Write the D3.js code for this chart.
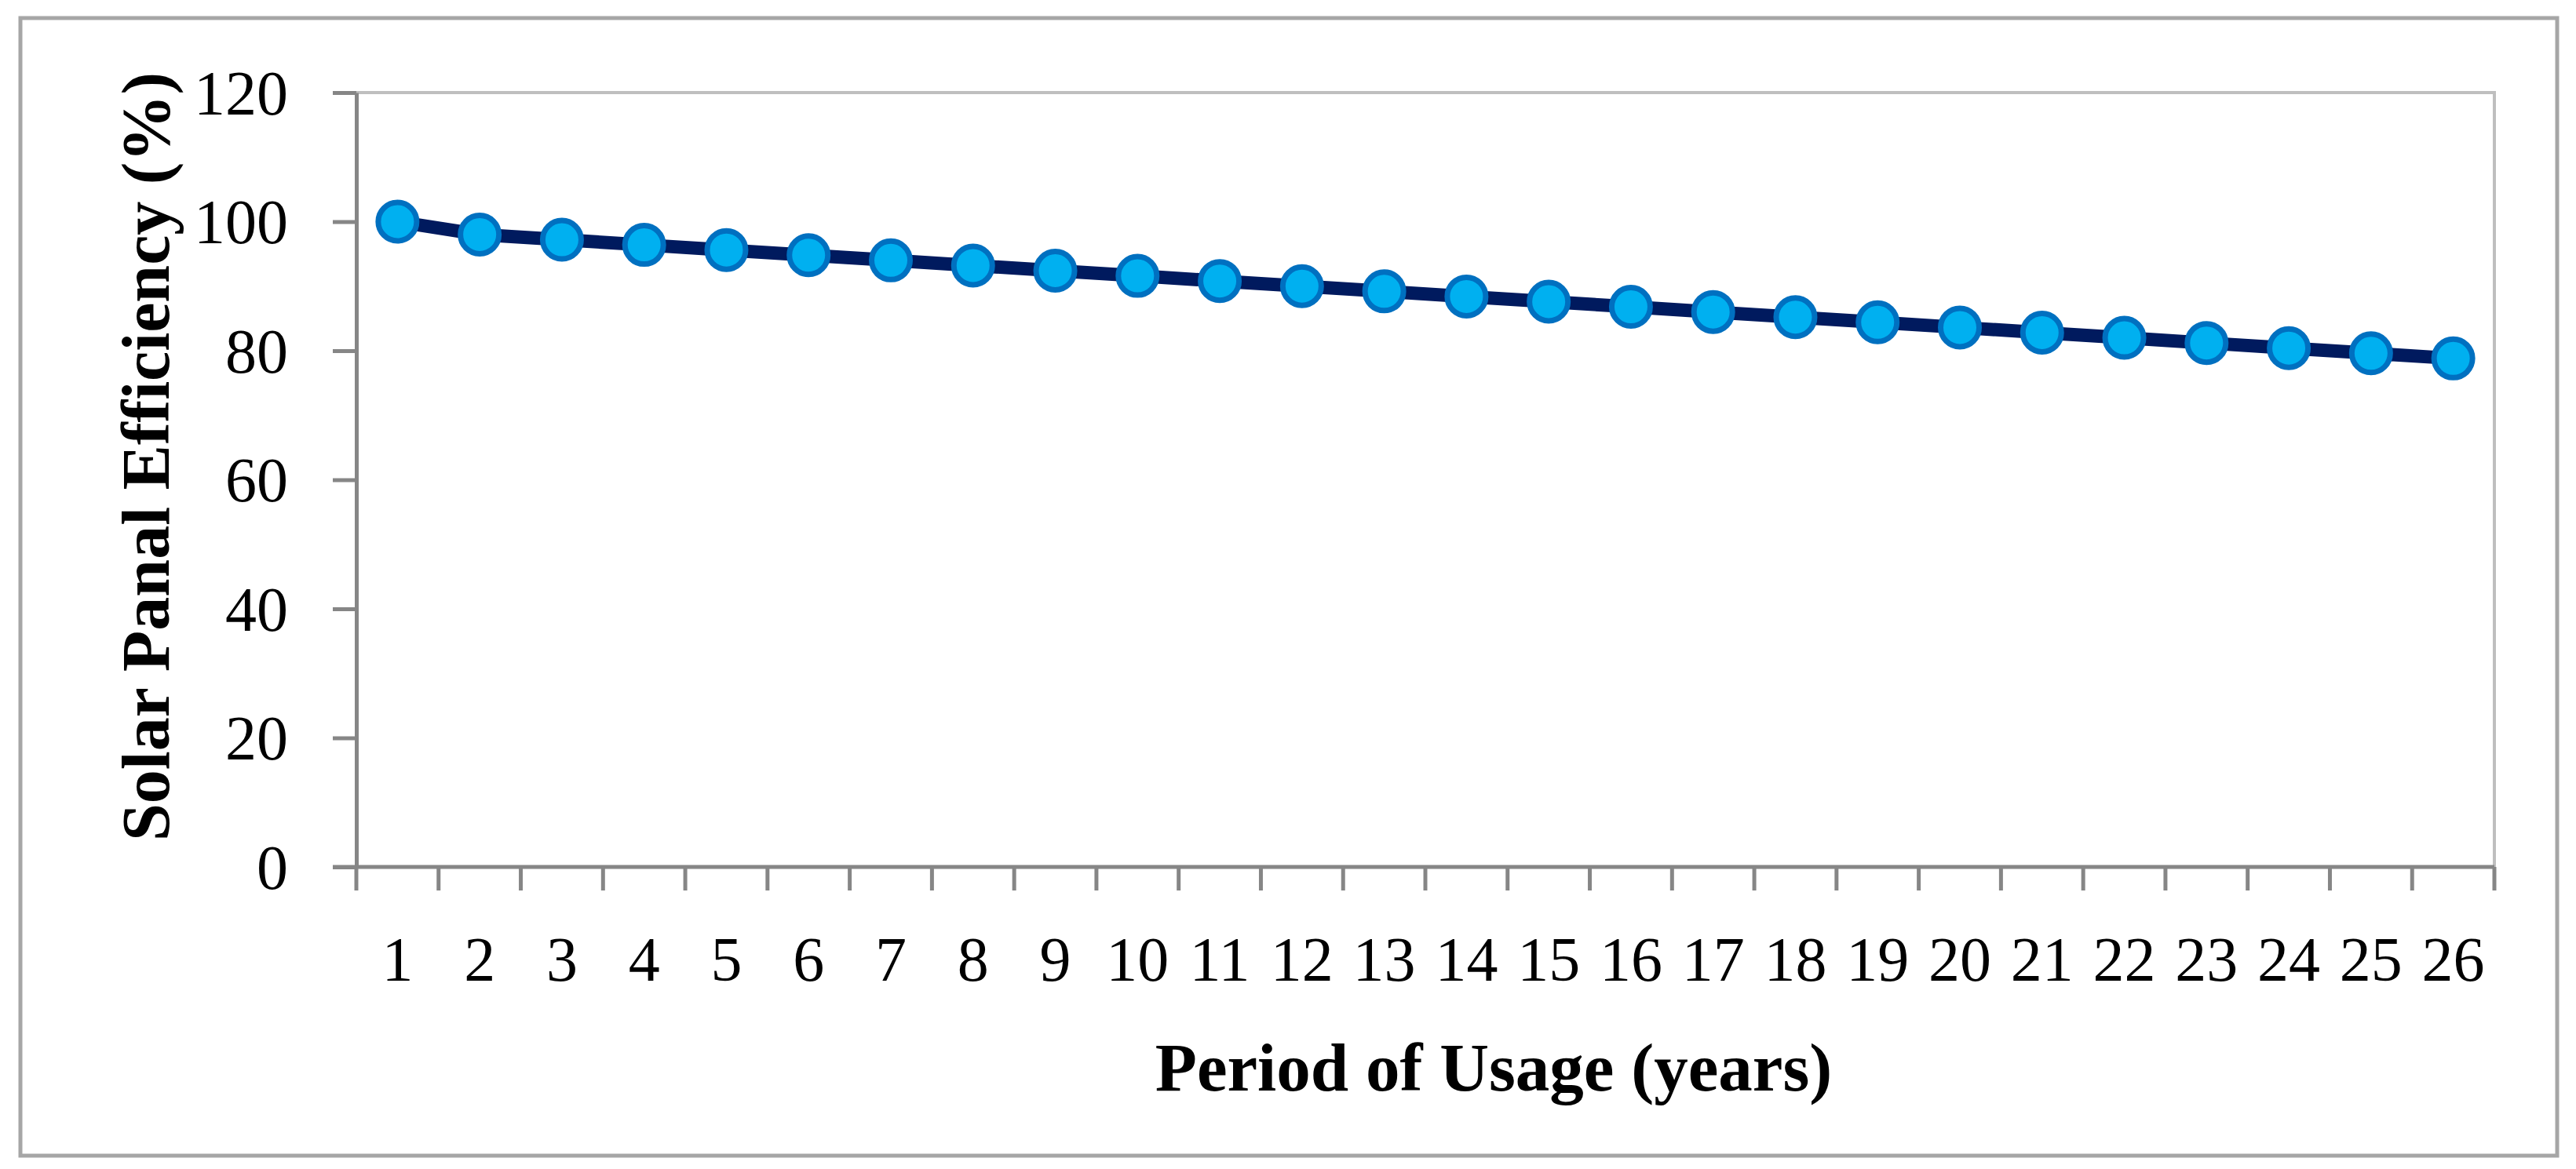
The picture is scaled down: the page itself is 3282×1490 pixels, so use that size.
<!DOCTYPE html>
<html>
<head>
<meta charset="utf-8">
<script src="https://cdn.jsdelivr.net/npm/d3@7"></script>
<style>
  html, body { margin: 0; padding: 0; background: #ffffff; }
  svg { display: block; }
</style>
</head>
<body>
<svg id="chart" width="3282" height="1490"></svg>
<script>
// ---- data ----
const categories = ["1","2","3","4","5","6","7","8","9","10","11","12","13","14","15","16","17","18","19","20","21","22","23","24","25","26"];
const efficiency = [100, 98, 97.2, 96.4, 95.6, 94.8, 94.0, 93.2, 92.4, 91.6, 90.8, 90.0, 89.2, 88.4, 87.6, 86.8, 86.0, 85.2, 84.4, 83.6, 82.8, 82.0, 81.2, 80.4, 79.6, 78.8];
const yTickValues = [0, 20, 40, 60, 80, 100, 120];
const xTitle = "Period of Usage (years)";
const yTitle = "Solar Panal Efficiency (%)";

// ---- layout ----
const plot = { left: 454, top: 118, right: 3178, bottom: 1105 };
const font = "'Liberation Serif', 'Times New Roman', serif";

const svg = d3.select("#chart");

// outer frame
svg.append("rect")
  .attr("x", 26).attr("y", 23)
  .attr("width", 3258 - 26).attr("height", 1473 - 23)
  .attr("fill", "#ffffff")
  .attr("stroke", "#a6a6a6").attr("stroke-width", 5);

const x = d3.scaleBand().domain(categories).range([plot.left, plot.right]).padding(0);
const y = d3.scaleLinear().domain([0, 120]).range([plot.bottom, plot.top]);
const bw = x.bandwidth();

// plot area top/right border (light gray)
svg.append("path")
  .attr("d", `M${plot.left},${y(120)} H${plot.right} V${y(0)}`)
  .attr("fill", "none").attr("stroke", "#bfbfbf").attr("stroke-width", 4);

// y axis
const yAxis = svg.append("g")
  .attr("transform", `translate(${plot.left},0)`)
  .call(d3.axisLeft(y).tickValues(yTickValues).tickSize(30).tickPadding(57).tickSizeOuter(0));
yAxis.select(".domain").attr("stroke", "#868686").attr("stroke-width", 5);
yAxis.selectAll(".tick line").attr("stroke", "#868686").attr("stroke-width", 5);
yAxis.selectAll(".tick text")
  .attr("font-family", font).attr("font-size", 80).attr("fill", "#000")
  .attr("dy", "0.34em");

// x axis labels (centered in bands, no ticks)
const xAxis = svg.append("g")
  .attr("transform", `translate(0,${plot.bottom})`)
  .call(d3.axisBottom(x).tickSize(0).tickPadding(88));
xAxis.select(".domain").remove();
xAxis.selectAll(".tick text")
  .attr("font-family", font).attr("font-size", 80).attr("fill", "#000")
  .attr("dy", "0.71em");

// x axis baseline and tick marks at band edges
const edges = categories.map(c => x(c)).concat([x(categories[categories.length - 1]) + bw]);
svg.append("line")
  .attr("x1", plot.left - 30).attr("x2", plot.right)
  .attr("y1", y(0)).attr("y2", y(0))
  .attr("stroke", "#868686").attr("stroke-width", 5);
svg.append("g").selectAll("line").data(edges).join("line")
  .attr("x1", d => d).attr("x2", d => d)
  .attr("y1", y(0)).attr("y2", y(0) + 30)
  .attr("stroke", "#868686").attr("stroke-width", 5);

// series line
const pts = categories.map((c, i) => ({ c, v: efficiency[i] }));
const line = d3.line().x(d => x(d.c) + bw / 2).y(d => y(d.v));
svg.append("path")
  .datum(pts)
  .attr("d", line)
  .attr("fill", "none")
  .attr("stroke", "#001a5e")
  .attr("stroke-width", 17)
  .attr("stroke-linejoin", "round");

// markers
svg.append("g").selectAll("circle").data(pts).join("circle")
  .attr("cx", d => x(d.c) + bw / 2)
  .attr("cy", d => y(d.v))
  .attr("r", 24.5)
  .attr("fill", "#00b0f0")
  .attr("stroke", "#0070c0")
  .attr("stroke-width", 7);

// axis titles
svg.append("text")
  .attr("x", 1903).attr("y", 1390)
  .attr("text-anchor", "middle")
  .attr("font-family", font).attr("font-weight", "bold").attr("font-size", 87)
  .attr("fill", "#000")
  .text(xTitle);

svg.append("text")
  .attr("transform", `translate(215,582) rotate(-90)`)
  .attr("text-anchor", "middle")
  .attr("font-family", font).attr("font-weight", "bold").attr("font-size", 86)
  .attr("fill", "#000")
  .text(yTitle);
</script>
</body>
</html>
